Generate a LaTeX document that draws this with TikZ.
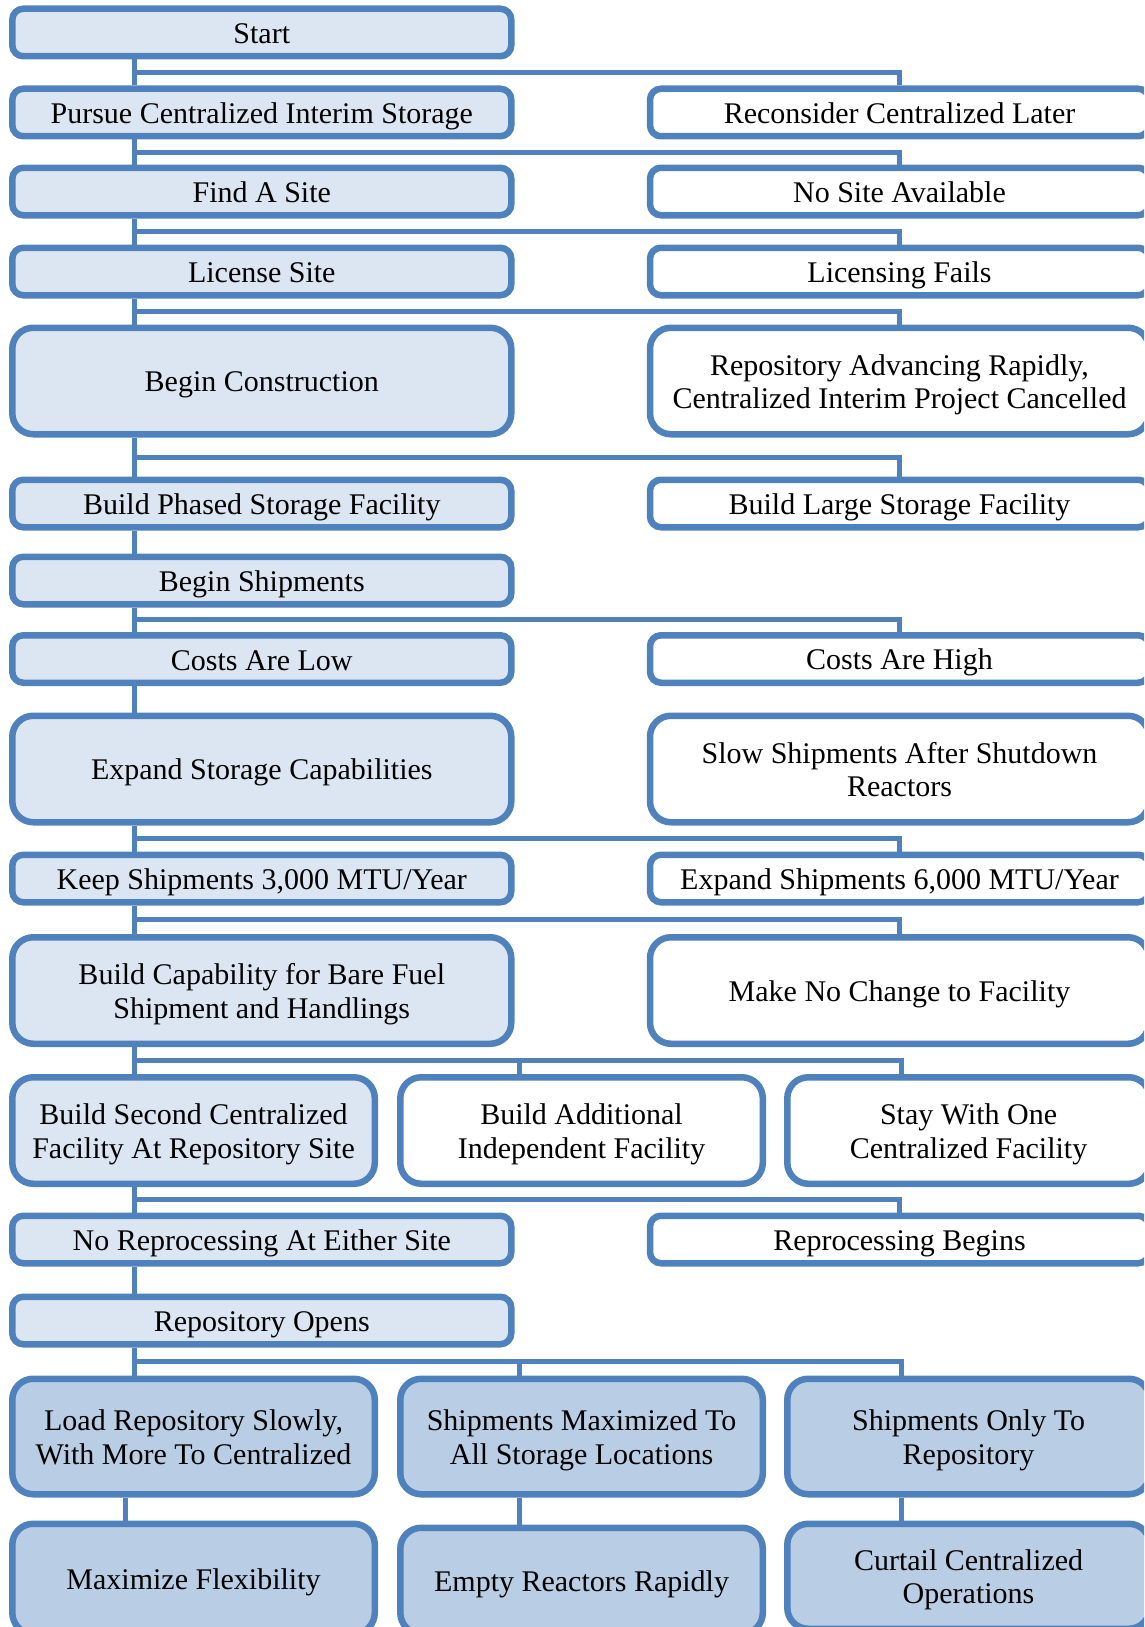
\documentclass[tikz,border=0pt]{standalone}
\usepackage{fontspec}
\setmainfont{Liberation Serif}
\usetikzlibrary{positioning,calc}
\definecolor{edgeblue}{HTML}{4F81BD}
\definecolor{paleblue}{HTML}{DCE6F2}
\definecolor{deepblue}{HTML}{B9CDE5}
\tikzset{
  stage/.style      = {draw=edgeblue, line width=6.5pt, rounded corners=11pt, fill=paleblue,
                       align=center, minimum width=499pt, minimum height=47.5pt, inner sep=2pt,
                       font=\fontsize{30}{33.5}\selectfont,
                       execute at begin node={\rule{0pt}{28pt}},
                       execute at end node={\rule[-6pt]{0pt}{6pt}}},
  pair/.style       = {execute at begin node={\rule{0pt}{61.5pt}}},
  option/.style     = {stage, fill=white},
  tallstage/.style  = {stage, minimum height=106.5pt, rounded corners=21pt},
  talloption/.style = {tallstage, fill=white},
  narrow/.style     = {minimum width=362.5pt},
  outcome/.style    = {tallstage, narrow, fill=deepblue, minimum height=115.5pt},
  lastrow/.style    = {outcome, minimum height=110pt},
  link/.style       = {draw=edgeblue, line width=5pt},
}

\begin{document}
\begin{tikzpicture}[x=1pt, y=-1pt, node distance=26pt and 132.2pt]
  \useasboundingbox (0,0) rectangle (1144,1627);
  \clip (0,0) rectangle (1144,1627);
  \coordinate (trunk) at (134,0);
  \coordinate (dropA) at (519,0);
  \coordinate (dropB) at (901,0);
  \coordinate (lowL)  at (125.5,0);

  % main path and alternatives
  \node[stage] (start) at (261.8,32.5) {Start};
  \node[stage, below=of start] (pursue) {Pursue Centralized Interim Storage};
  \node[option, right=of pursue] (reconsider) {Reconsider Centralized Later};
  \node[stage, below=25pt of pursue] (findsite) {Find A Site};
  \node[option, right=of findsite] (nosite) {No Site Available};
  \node[stage, below=of findsite] (license) {License Site};
  \node[option, right=of license] (licfail) {Licensing Fails};
  \node[tallstage, below=26pt of license] (construct) {Begin Construction};
  \node[talloption, pair, right=of construct] (repoadv) {Repository Advancing Rapidly,\\Centralized Interim Project Cancelled};
  \node[stage, below=39pt of construct] (phased) {Build Phased Storage Facility};
  \node[option, right=of phased] (largefac) {Build Large Storage Facility};
  \node[stage, below=23pt of phased] (shipbegin) {Begin Shipments};
  \node[stage, below=24.5pt of shipbegin] (costlow) {Costs Are Low};
  \node[option, right=of costlow] (costhigh) {Costs Are High};
  \node[tallstage, below=26.5pt of costlow] (expand) {Expand Storage Capabilities};
  \node[talloption, pair, right=of expand] (slowship) {Slow Shipments After Shutdown\\Reactors};
  \node[stage, below=26pt of expand] (keepship) {Keep Shipments 3,000 MTU/Year};
  \node[option, right=of keepship] (expship) {Expand Shipments 6,000 MTU/Year};
  \node[tallstage, pair, below=28.5pt of keepship] (barefuel) {Build Capability for Bare Fuel\\Shipment and Handlings};
  \node[talloption, right=of barefuel] (nochange) {Make No Change to Facility};

  % three-way split
  \node[tallstage, pair, narrow, below=27pt of barefuel.south west, anchor=north west] (second) {Build Second Centralized\\Facility At Repository Site};
  \node[talloption, pair, narrow, right=19pt of second] (addfac) {Build Additional\\Independent Facility};
  \node[talloption, pair, narrow, right=18pt of addfac] (onefac) {Stay With One\\Centralized Facility};
  \node[stage, below=25.5pt of second.south west, anchor=north west] (noreproc) {No Reprocessing At Either Site};
  \node[option, right=of noreproc] (reproc) {Reprocessing Begins};
  \node[stage, below=27pt of noreproc] (repoopen) {Repository Opens};

  % outcomes
  \node[outcome, pair, below=28pt of repoopen.south west, anchor=north west] (loadslow) {Load Repository Slowly,\\With More To Centralized};
  \node[outcome, pair, right=19pt of loadslow] (shipmax) {Shipments Maximized To\\All Storage Locations};
  \node[outcome, pair, right=18pt of shipmax] (shiponly) {Shipments Only To\\Repository};
  \node[lastrow, below=23pt of loadslow] (maxflex) {Maximize Flexibility};
  \node[lastrow, below=27pt of shipmax, minimum height=106pt] (emptyreact) {Empty Reactors Rapidly};
  \node[lastrow, pair, below=23pt of shiponly, minimum height=105pt] (curtail) {Curtail Centralized\\Operations};

  % trunk
  \foreach \a/\b in {start/pursue, pursue/findsite, findsite/license, license/construct,
                     construct/phased, phased/shipbegin, shipbegin/costlow, costlow/expand,
                     expand/keepship, keepship/barefuel, barefuel/second, second/noreproc,
                     noreproc/repoopen, repoopen/loadslow}
    \draw[link] (\a.south -| trunk) -- (\b.north -| trunk);

  % branches to the right
  \foreach \a/\b/\c in {start/pursue/reconsider, pursue/findsite/nosite, findsite/license/licfail,
                        license/construct/repoadv, construct/phased/largefac, shipbegin/costlow/costhigh,
                        expand/keepship/expship, keepship/barefuel/nochange, second/noreproc/reproc}
  {
    \coordinate (j) at ($(\a.south)!0.5!(\b.north)$);
    \draw[link] (j -| trunk) -| (\c.north);
  }

  \foreach \a/\b/\c/\d in {barefuel/second/addfac/onefac, repoopen/loadslow/shipmax/shiponly}
  {
    \coordinate (j) at ($(\a.south)!0.5!(\b.north)$);
    \draw[link] (j -| trunk) -| (\d.north -| dropB);
    \draw[link] (j -| dropA) -- (\c.north -| dropA);
  }

  \draw[link] (loadslow.south -| lowL) -- (maxflex.north -| lowL);
  \draw[link] (shipmax.south -| dropA) -- (emptyreact.north -| dropA);
  \draw[link] (shiponly.south -| dropB) -- (curtail.north -| dropB);
\end{tikzpicture}
\end{document}
